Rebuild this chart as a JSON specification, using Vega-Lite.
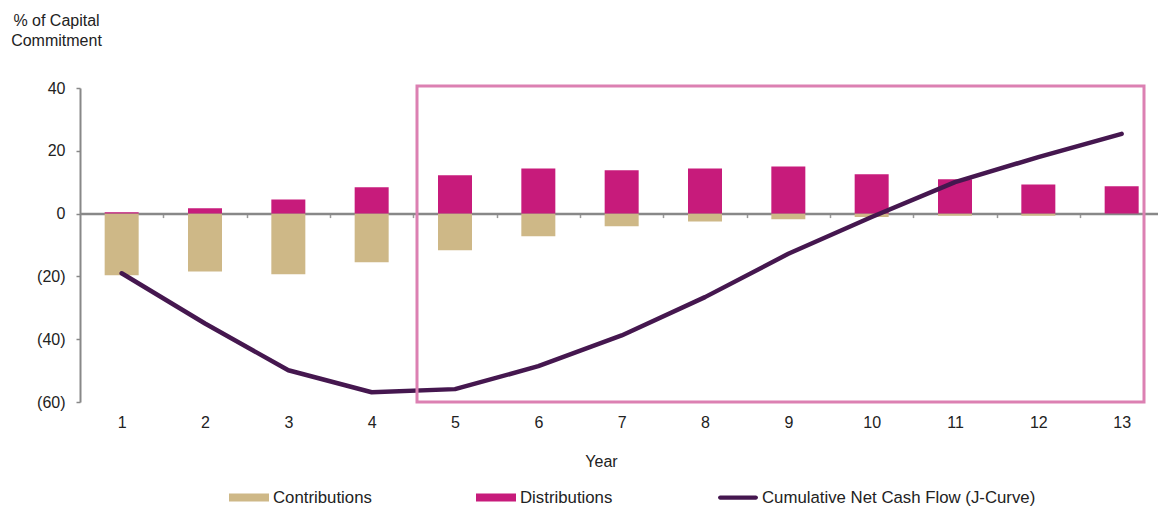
{
  "$schema": "https://vega.github.io/schema/vega-lite/v6.json",
  "autosize": "none",
  "width": 1078,
  "height": 314,
  "padding": {"left": 80, "top": 88, "right": 0, "bottom": 104},
  "background": "white",
  "config": {
    "view": {"stroke": null},
    "font": "Liberation Sans",
    "axis": {"labelFont": "Liberation Sans", "titleFont": "Liberation Sans", "labelColor": "#222", "titleColor": "#222", "labelFontSize": 16, "titleFontSize": 16, "titleFontWeight": "normal", "grid": false},
    "legend": {"labelFont": "Liberation Sans"}
  },
  "data": {
    "values": [
      {"year": 1, "series": "Contributions", "value": -19.6},
      {"year": 2, "series": "Contributions", "value": -18.4},
      {"year": 3, "series": "Contributions", "value": -19.3},
      {"year": 4, "series": "Contributions", "value": -15.5},
      {"year": 5, "series": "Contributions", "value": -11.7},
      {"year": 6, "series": "Contributions", "value": -7.2},
      {"year": 7, "series": "Contributions", "value": -4.0},
      {"year": 8, "series": "Contributions", "value": -2.5},
      {"year": 9, "series": "Contributions", "value": -1.8},
      {"year": 10, "series": "Contributions", "value": -1.1},
      {"year": 11, "series": "Contributions", "value": -0.7},
      {"year": 12, "series": "Contributions", "value": -0.7},
      {"year": 13, "series": "Contributions", "value": 0},
      {"year": 1, "series": "Distributions", "value": 0.4},
      {"year": 2, "series": "Distributions", "value": 1.7},
      {"year": 3, "series": "Distributions", "value": 4.5},
      {"year": 4, "series": "Distributions", "value": 8.4},
      {"year": 5, "series": "Distributions", "value": 12.2},
      {"year": 6, "series": "Distributions", "value": 14.4},
      {"year": 7, "series": "Distributions", "value": 13.8},
      {"year": 8, "series": "Distributions", "value": 14.4},
      {"year": 9, "series": "Distributions", "value": 15.0},
      {"year": 10, "series": "Distributions", "value": 12.5},
      {"year": 11, "series": "Distributions", "value": 10.9},
      {"year": 12, "series": "Distributions", "value": 9.3},
      {"year": 13, "series": "Distributions", "value": 8.7},
      {"year": 1, "series": "Cumulative Net Cash Flow (J-Curve)", "value": -19.0},
      {"year": 2, "series": "Cumulative Net Cash Flow (J-Curve)", "value": -35.0},
      {"year": 3, "series": "Cumulative Net Cash Flow (J-Curve)", "value": -49.9},
      {"year": 4, "series": "Cumulative Net Cash Flow (J-Curve)", "value": -56.9},
      {"year": 5, "series": "Cumulative Net Cash Flow (J-Curve)", "value": -55.9},
      {"year": 6, "series": "Cumulative Net Cash Flow (J-Curve)", "value": -48.6},
      {"year": 7, "series": "Cumulative Net Cash Flow (J-Curve)", "value": -38.8},
      {"year": 8, "series": "Cumulative Net Cash Flow (J-Curve)", "value": -26.6},
      {"year": 9, "series": "Cumulative Net Cash Flow (J-Curve)", "value": -12.8},
      {"year": 10, "series": "Cumulative Net Cash Flow (J-Curve)", "value": -1.1},
      {"year": 11, "series": "Cumulative Net Cash Flow (J-Curve)", "value": 10.0},
      {"year": 12, "series": "Cumulative Net Cash Flow (J-Curve)", "value": 18.0},
      {"year": 13, "series": "Cumulative Net Cash Flow (J-Curve)", "value": 25.4}
    ]
  },
  "layer": [
    {
      "transform": [{"filter": "datum.series !== 'Cumulative Net Cash Flow (J-Curve)'"}],
      "mark": {"type": "bar", "width": 34},
      "encoding": {
        "x": {
          "field": "year", "type": "quantitative",
          "scale": {"domain": [0.5, 13.436], "nice": false, "zero": false, "padding": 0},
          "axis": {
            "orient": "bottom", "values": [1,2,3,4,5,6,7,8,9,10,11,12,13], "format": "d",
            "domain": false, "ticks": false, "labelPadding": 12, "labelFlush": false,
            "title": "Year", "titleX": 521, "titleY": 64, "titleAlign": "center", "titleBaseline": "alphabetic"
          }
        },
        "y": {
          "field": "value", "type": "quantitative", "stack": null,
          "scale": {"domain": [-60, 40], "nice": false, "zero": false, "padding": 0},
          "axis": {
            "values": [-60, -40, -20, 0, 20, 40],
            "labelExpr": "datum.value < 0 ? '(' + format(-datum.value, 'd') + ')' : format(datum.value, 'd')",
            "domainColor": "#888", "domainWidth": 2, "tickColor": "#888", "tickWidth": 1.5, "tickSize": 4, "labelPadding": 11,
            "title": ["% of Capital", "Commitment"], "titleAngle": 0, "titleAlign": "center", "titleBaseline": "alphabetic",
            "titleX": -24, "titleY": -63, "titleLineHeight": 20
          }
        },
        "color": {
          "field": "series", "type": "nominal",
          "scale": {
            "domain": ["Contributions", "Distributions", "Cumulative Net Cash Flow (J-Curve)"],
            "range": ["#CEB887", "#C71B7B", "#45174F"]
          },
          "legend": {
            "orient": "none", "legendX": 149, "legendY": 389.5, "direction": "horizontal", "title": null,
            "symbolSize": 1600, "labelFontSize": 16.8, "labelOffset": 4, "columnPadding": 104, "padding": 0,
            "labelColor": "#222", "labelLimit": 500,
            "encode": {
              "symbols": {
                "update": {
                  "size": {"value": 1600},
                  "shape": {"signal": "datum.value === 'Cumulative Net Cash Flow (J-Curve)' ? 'M-0.89,-0.11H0.89A0.11,0.11,0,0,1,0.89,0.11H-0.89A0.11,0.11,0,0,1,-0.89,-0.11Z' : 'M-1,-0.2H1V0.2H-1Z'"},
                  "fill": {"scale": "color", "field": "value"},
                  "strokeWidth": {"value": 0},
                  "opacity": {"value": 1},
                  "fillOpacity": {"value": 1}
                }
              }
            }
          }
        }
      }
    },
    {
      "transform": [{"filter": "datum.series === 'Cumulative Net Cash Flow (J-Curve)'"}],
      "mark": {"type": "line", "strokeWidth": 4.5, "strokeCap": "round", "strokeJoin": "round"},
      "encoding": {
        "x": {
          "field": "year", "type": "quantitative",
          "axis": {
            "orient": "bottom", "offset": -188.4, "values": [1.5,2.5,3.5,4.5,5.5,6.5,7.5,8.5,9.5,10.5,11.5,12.5],
            "labels": false, "title": null, "domain": true, "domainColor": "#888", "domainWidth": 2.5,
            "ticks": true, "tickColor": "#999", "tickWidth": 1.5, "tickSize": 4
          }
        },
        "y": {"field": "value", "type": "quantitative"},
        "color": {"field": "series", "type": "nominal"}
      }
    },
    {
      "data": {"values": [{"x_start": 4.544, "x_end": 13.268, "y_top": 40.6, "y_bottom": -60}]},
      "mark": {"type": "rect", "filled": false, "stroke": "#DC80B2", "strokeWidth": 3},
      "encoding": {
        "x": {"field": "x_start", "type": "quantitative", "axis": null},
        "x2": {"field": "x_end"},
        "y": {"field": "y_top", "type": "quantitative"},
        "y2": {"field": "y_bottom"}
      }
    }
  ],
  "resolve": {"axis": {"x": "independent"}}
}
